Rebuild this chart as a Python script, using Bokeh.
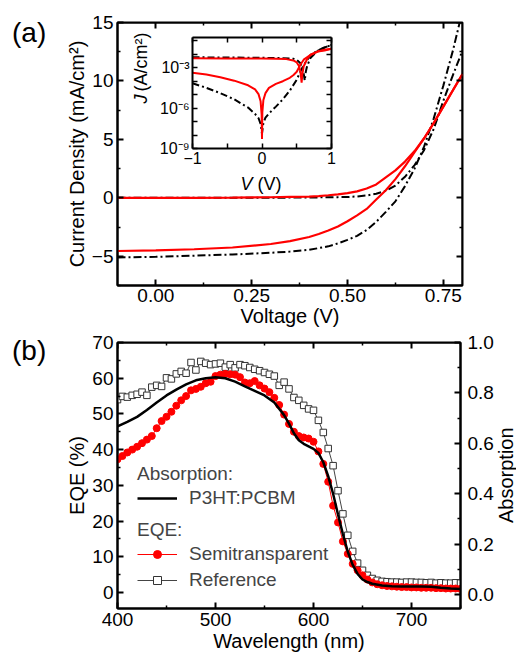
import math
from bokeh.plotting import figure
from bokeh.models import (Range1d, LinearAxis, LogAxis, LinearScale, LogScale, FixedTicker,
                          PrintfTickFormatter, CustomJSTickFormatter, Label, Legend, LegendItem,
                          CustomLabelingPolicy, Div)
from bokeh.layouts import column, row
from bokeh.embed import file_html
from bokeh.resources import INLINE

FONT = "Liberation Sans"

# ---------------- (a) J-V curves (mA/cm^2) ----------------
jv_v = [-0.1, 0.0, 0.1, 0.2, 0.3, 0.35, 0.4, 0.425, 0.45, 0.475, 0.5, 0.525, 0.55,
        0.575, 0.6, 0.625, 0.65, 0.675, 0.7, 0.725, 0.75, 0.775, 0.8]
red_light = [-4.55, -4.5, -4.4, -4.25, -3.95, -3.7, -3.35, -3.1, -2.8, -2.45, -2.0, -1.5, -0.95,
             -0.15, 0.65, 1.6, 2.7, 3.9, 5.1, 6.4, 7.8, 9.2, 10.6]
red_dark = [0.0, 0.0, 0.0, 0.02, 0.05, 0.08, 0.11, 0.15, 0.22, 0.3, 0.4, 0.55, 0.8,
            1.15, 1.75, 2.35, 3.1, 4.0, 5.1, 6.4, 7.8, 9.2, 10.6]
black_light = [-5.1, -5.05, -4.95, -4.85, -4.7, -4.6, -4.45, -4.3, -4.15, -3.9, -3.6, -3.25, -2.75,
               -2.05, -1.2, -0.3, 1.0, 2.5, 4.4, 6.8, 9.6, 12.6, 16.0]
black_dark = [0.0, 0.0, 0.0, 0.0, 0.01, 0.02, 0.03, 0.04, 0.05, 0.06, 0.07, 0.12, 0.2,
              0.35, 0.6, 1.05, 1.8, 2.8, 4.1, 5.9, 8.3, 10.5, 12.6]

# inset: |J| (A/cm^2) on log scale
in_red_light_v = [-1.0, -0.5, 0.0, 0.2, 0.35, 0.45, 0.5, 0.53, 0.55, 0.56, 0.57, 0.58, 0.6,
                  0.65, 0.7, 0.8, 0.9, 1.0]
in_red_light_j = [5.0e-3, 4.9e-3, 4.8e-3, 4.7e-3, 4.4e-3, 3.5e-3, 2.5e-3, 1.4e-3, 6.3e-4, 2.5e-4,
                  7.9e-5, 3.2e-4, 1.3e-3, 4.5e-3, 9.3e-3, 1.6e-2, 1.9e-2, 2.6e-2]
in_red_dark_v = [-1.0, -0.8, -0.6, -0.4, -0.2, -0.1, -0.05, -0.02, -0.005, 0.0, 0.005, 0.02, 0.05,
                 0.1, 0.2, 0.3, 0.4, 0.45, 0.5, 0.55, 0.6, 0.7, 0.8, 0.9, 1.0]
in_red_dark_j = [4.3e-4, 3.2e-4, 2.0e-4, 1.1e-4, 5.0e-5, 2.5e-5, 1.1e-5, 3.2e-6, 3.2e-7, 5.0e-9,
                 5.0e-7, 4.0e-6, 1.3e-5, 3.2e-5, 6.3e-5, 1.0e-4, 1.8e-4, 2.8e-4, 5.0e-4, 1.6e-3,
                 4.0e-3, 9.3e-3, 1.6e-2, 2.2e-2, 2.6e-2]
in_black_dark_v = [-1.0, -0.8, -0.6, -0.4, -0.2, -0.1, -0.05, -0.02, 0.0, 0.02, 0.05, 0.1, 0.2,
                   0.3, 0.4, 0.5, 0.55, 0.6, 0.7, 0.8, 0.9, 1.0]
in_black_dark_j = [7.1e-5, 3.2e-5, 1.3e-5, 4.5e-6, 1.1e-6, 3.7e-7, 1.8e-7, 6.6e-8, 1.3e-8, 7.9e-8,
                   2.0e-7, 4.0e-7, 1.3e-6, 4.5e-6, 2.0e-5, 1.3e-4, 5.0e-4, 1.6e-3, 8.9e-3, 1.9e-2,
                   3.2e-2, 5.0e-2]
in_black_light_v = [-1.0, -0.5, 0.0, 0.3, 0.45, 0.5, 0.55, 0.58, 0.6, 0.615, 0.63, 0.65, 0.7,
                    0.8, 0.9, 1.0]
in_black_light_j = [6.0e-3, 5.8e-3, 5.5e-3, 5.2e-3, 4.7e-3, 3.8e-3, 2.3e-3, 1.0e-3, 3.5e-4, 1.1e-4,
                    5.0e-4, 1.4e-3, 5.6e-3, 1.8e-2, 3.2e-2, 5.0e-2]

# ticks (a)
a_xticks = [0.0, 0.25, 0.5, 0.75]
a_xminor = [0.125, 0.375, 0.625]
a_yticks = [-5, 0, 5, 10, 15]
a_yminor = [-7.5, -2.5, 2.5, 7.5, 12.5]
in_xticks = [-1, 0, 1]
in_xminor = [-0.5, 0.5]
in_yticks = [1e-9, 1e-6, 1e-3]
in_yminor = [1e-8, 1e-7, 1e-5, 1e-4, 1e-2, 1e-1]

# ---------------- (b) EQE / absorption ----------------
wl = [400, 405, 410, 415, 420, 425, 430, 435, 440, 445, 450, 455, 460, 465, 470, 475, 480, 485,
      490, 495, 500, 505, 510, 515, 520, 525, 530, 535, 540, 545, 550, 555, 560, 565, 570, 575,
      580, 585, 590, 595, 600, 605, 610, 615, 620, 625, 630, 635, 640, 645, 650, 655, 660, 665,
      670, 675, 680, 685, 690, 695, 700, 705, 710, 715, 720, 725, 730, 735, 740, 745, 750]
eqe_ref = [54.0, 54.9, 54.7, 55.2, 55.5, 56.1, 55.2, 57.5, 58.0, 57.7, 60.1, 59.8, 61.2, 61.9,
           61.4, 64.4, 62.3, 64.7, 64.2, 63.8, 64.0, 64.2, 63.1, 63.8, 62.9, 63.8, 63.5, 63.0,
           62.5, 62.1, 61.6, 61.1, 60.6, 58.0, 58.9, 57.0, 54.6, 53.8, 52.4, 51.4, 51.0, 48.2,
           44.8, 40.3, 35.5, 28.5, 22.0, 16.0, 11.5, 8.2, 6.2, 4.8, 3.9, 3.4, 3.1, 3.0, 2.9,
           2.9, 2.8, 2.9, 2.9, 2.8, 2.8, 2.7, 2.8, 2.6, 2.7, 2.6, 2.6, 2.7, 2.6]
eqe_semi = [37.3, 38.2, 39.2, 40.0, 40.8, 41.8, 42.8, 43.8, 46.0, 48.0, 49.2, 50.6, 52.3, 53.8,
            55.0, 56.6, 57.0, 57.6, 58.6, 59.0, 60.6, 61.0, 61.2, 61.1, 61.0, 60.3, 58.8, 58.6,
            59.2, 58.0, 57.1, 56.1, 54.5, 52.5, 49.8, 47.2, 45.0, 43.8, 43.4, 43.1, 42.2, 39.5,
            36.0, 31.0, 24.3, 19.6, 14.3, 10.8, 8.0, 6.2, 4.8, 3.6, 2.8, 2.3, 2.0, 1.8, 1.7,
            1.6, 1.5, 1.5, 1.4, 1.4, 1.3, 1.3, 1.3, 1.2, 1.2, 1.1, 1.1, 1.1, 1.0]
wl_abs = [400, 410, 420, 430, 440, 450, 460, 470, 480, 490, 500, 510, 520, 530, 540, 550, 560,
          570, 575, 580, 585, 590, 595, 600, 605, 610, 615, 620, 625, 630, 635, 640, 645, 650,
          655, 660, 670, 680, 690, 700, 710, 720, 730, 740, 750]
absorption = [0.667, 0.685, 0.705, 0.732, 0.762, 0.790, 0.813, 0.834, 0.850, 0.858, 0.862, 0.858,
              0.845, 0.826, 0.808, 0.790, 0.762, 0.712, 0.678, 0.640, 0.612, 0.598, 0.588, 0.578,
              0.562, 0.525, 0.470, 0.400, 0.318, 0.240, 0.170, 0.118, 0.082, 0.060, 0.050, 0.043,
              0.036, 0.033, 0.032, 0.032, 0.032, 0.031, 0.027, 0.024, 0.022]

b_xticks = [400, 500, 600, 700]
b_xminor = [450, 550, 650, 750]
b_yticks = [0, 10, 20, 30, 40, 50, 60, 70]
b_yminor = [5, 15, 25, 35, 45, 55, 65]
b_rticks = [0.0, 0.2, 0.4, 0.6, 0.8, 1.0]
b_rminor = [0.1, 0.3, 0.5, 0.7, 0.9]

RED = "#ff0000"
BLACK = "#000000"
TAG_W = 50      # width of the narrow strip that carries "(a)" / "(b)"


def style_axis(ax, labels=True, tick_size="19px"):
    ax.axis_line_width = 2
    ax.major_tick_in = 6
    ax.major_tick_out = 0
    ax.minor_tick_in = 3
    ax.minor_tick_out = 0
    ax.major_tick_line_width = 2
    ax.minor_tick_line_width = 1.5
    ax.major_label_text_font = FONT
    ax.major_label_text_color = "black"
    ax.axis_label_text_font = FONT
    ax.axis_label_text_font_style = "normal"
    ax.axis_label_text_font_size = "20px"
    ax.axis_label_text_color = "black"
    ax.major_label_standoff = 4
    ax.axis_label_standoff = 1
    ax.major_label_text_font_size = tick_size
    if not labels:
        ax.major_label_policy = CustomLabelingPolicy(code="return []")
        ax.major_label_standoff = 0


def tag_div(w, h, text, size, center_y, indent):
    """plain text block beside a panel; one line whose box is centred at center_y"""
    return Div(text=text, width=w, height=h, margin=0,
               styles={"font-family": FONT, "font-size": size, "color": "black",
                       "line-height": f"{2 * center_y}px", "text-indent": f"{indent}px",
                       "white-space": "nowrap", "overflow": "visible"})


# ================= panel (a) =================
FW1, FH1 = 345, 263
X1 = (-0.1, 0.8)
Y1 = (-7.5, 15)
B1_TOP, B1_BOT = 22, 46
p1 = figure(frame_width=FW1, frame_height=FH1, x_range=Range1d(*X1),
            y_range=Range1d(*Y1), output_backend="svg", toolbar_location=None,
            min_border_left=117 - TAG_W, min_border_right=40, min_border_top=B1_TOP,
            min_border_bottom=B1_BOT)
p1.grid.visible = False
p1.outline_line_color = "black"
p1.outline_line_width = 2


def px1(dx, dy):
    """frame pixel offsets (from bottom-left) -> data coordinates of panel (a)"""
    return (X1[0] + dx * (X1[1] - X1[0]) / FW1, Y1[0] + dy * (Y1[1] - Y1[0]) / FH1)


p1.xaxis.ticker = FixedTicker(ticks=a_xticks, minor_ticks=a_xminor)
p1.xaxis.formatter = PrintfTickFormatter(format="%.2f")
p1.xaxis.axis_label = "Voltage (V)"
p1.yaxis.ticker = FixedTicker(ticks=a_yticks, minor_ticks=a_yminor)
p1.yaxis.axis_label = "Current Density (mA/cm²)"
for ax in p1.xaxis + p1.yaxis:
    style_axis(ax)
p1.xaxis.major_label_standoff = 3
p1.xaxis.axis_label_standoff = 0
top1 = LinearAxis(fixed_location=Y1[1], ticker=FixedTicker(ticks=a_xticks, minor_ticks=a_xminor))
right1 = LinearAxis(fixed_location=X1[1], ticker=FixedTicker(ticks=a_yticks, minor_ticks=a_yminor))
style_axis(top1, labels=False)
style_axis(right1, labels=False)
p1.add_layout(top1, "above")
p1.add_layout(right1, "right")

# main curves
p1.line(jv_v, black_dark, line_color=BLACK, line_width=2, line_dash="8 3 2 3")
p1.line(jv_v, black_light, line_color=BLACK, line_width=2, line_dash="8 3 2 3")
p1.line(jv_v, red_dark, line_color=RED, line_width=2.2)
p1.line(jv_v, red_light, line_color=RED, line_width=2.2)

# inset via extra ranges mapped onto a sub-box of the frame
IX0, IX1 = 75, 214      # inset box, px from frame left
IY0, IY1 = 137, 248     # inset box, px from frame bottom
IN_LOG_LO, IN_LOG_HI = -9.0, -0.75
ppx = (IX1 - IX0) / 2.0
ppd = (IY1 - IY0) / (IN_LOG_HI - IN_LOG_LO)
p1.extra_x_ranges = {"ix": Range1d(-1 - IX0 / ppx, 1 + (FW1 - IX1) / ppx)}
p1.extra_y_ranges = {"iy": Range1d(10 ** (IN_LOG_LO - IY0 / ppd), 10 ** (IN_LOG_HI + (FH1 - IY1) / ppd))}
p1.extra_x_scales = {"ix": LinearScale()}
p1.extra_y_scales = {"iy": LogScale()}
in_top = 10 ** IN_LOG_HI
in_bot = 10 ** IN_LOG_LO

sup = CustomJSTickFormatter(code="""
const e = Math.round(Math.log10(tick));
const m = {'-':'\u207b','0':'\u2070','1':'\u00b9','2':'\u00b2','3':'\u00b3','4':'\u2074','5':'\u2075','6':'\u2076','7':'\u2077','8':'\u2078','9':'\u2079'};
return '10' + String(e).split('').map(c => m[c]).join('');
""")

ib = LinearAxis(x_range_name="ix", y_range_name="iy", fixed_location=in_bot, bounds=(-1, 1),
                ticker=FixedTicker(ticks=in_xticks, minor_ticks=in_xminor))
it = LinearAxis(x_range_name="ix", y_range_name="iy", fixed_location=in_top, bounds=(-1, 1),
                ticker=FixedTicker(ticks=in_xticks, minor_ticks=in_xminor))
il = LogAxis(x_range_name="ix", y_range_name="iy", fixed_location=-1, bounds=(in_bot, in_top),
             ticker=FixedTicker(ticks=in_yticks, minor_ticks=in_yminor), formatter=sup)
ir = LogAxis(x_range_name="ix", y_range_name="iy", fixed_location=1, bounds=(in_bot, in_top),
             ticker=FixedTicker(ticks=in_yticks, minor_ticks=in_yminor))
for ax, lab in ((ib, True), (il, True), (it, False), (ir, False)):
    style_axis(ax, labels=lab, tick_size="16px")
    ax.major_tick_in = 5
    ax.minor_tick_in = 5
    ax.major_tick_line_width = 1.5
    ax.minor_tick_line_width = 1.5
    if lab:
        ax.major_label_standoff = 3
p1.add_layout(ib, "below")
p1.add_layout(it, "above")
p1.add_layout(il, "left")
p1.add_layout(ir, "right")

kw = dict(x_range_name="ix", y_range_name="iy")
p1.line(in_black_dark_v, in_black_dark_j, line_color=BLACK, line_width=2, line_dash="7 3 2 3", **kw)
p1.line(in_black_light_v, in_black_light_j, line_color=BLACK, line_width=2, line_dash="7 3 2 3", **kw)
p1.line(in_red_dark_v, in_red_dark_j, line_color=RED, line_width=2, **kw)
p1.line(in_red_light_v, in_red_light_j, line_color=RED, line_width=2, **kw)


def add_label(p, xy, text, size, **extra):
    p.add_layout(Label(x=xy[0], y=xy[1], text=text, text_font=FONT, text_font_size=size,
                       text_color="black", **extra))


add_label(p1, px1(123, IY0 - 35), "V", "18px", text_font_style="italic",
          text_align="left", text_baseline="middle")
add_label(p1, px1(140, IY0 - 35), "(V)", "18px", text_align="left", text_baseline="middle")
add_label(p1, px1(23, 182), "J", "18px", text_font_style="italic", angle=math.pi / 2,
          text_align="left", text_baseline="middle")
add_label(p1, px1(23, 194), "(A/cm²)", "18px", angle=math.pi / 2,
          text_align="left", text_baseline="middle")

P1_H = B1_TOP + FH1 + B1_BOT
tag_a = tag_div(TAG_W, P1_H, "(a)", "28px", center_y=33, indent=12)

# ================= panel (b) =================
FW2, FH2 = 343, 266
X2 = (400, 750)
Y2 = (-4.5, 70)
B2_TOP, B2_BOT, B2_RIGHT = 11, 49, 36
p2 = figure(frame_width=FW2, frame_height=FH2, x_range=Range1d(*X2),
            y_range=Range1d(*Y2), output_backend="svg", toolbar_location=None,
            min_border_left=117 - TAG_W, min_border_right=B2_RIGHT, min_border_top=B2_TOP,
            min_border_bottom=B2_BOT)
p2.grid.visible = False
p2.outline_line_color = "black"
p2.outline_line_width = 2
p2.extra_y_ranges = {"abs": Range1d(-0.055, 1.0)}

p2.xaxis.ticker = FixedTicker(ticks=b_xticks, minor_ticks=b_xminor)
p2.xaxis.axis_label = "Wavelength (nm)"
p2.yaxis.ticker = FixedTicker(ticks=b_yticks, minor_ticks=b_yminor)
p2.yaxis.axis_label = "EQE (%)"
for ax in p2.xaxis + p2.yaxis:
    style_axis(ax)
top2 = LinearAxis(fixed_location=Y2[1], ticker=FixedTicker(ticks=b_xticks, minor_ticks=b_xminor))
style_axis(top2, labels=False)
p2.add_layout(top2, "above")
right2 = LinearAxis(y_range_name="abs", ticker=FixedTicker(ticks=b_rticks, minor_ticks=b_rminor),
                    formatter=PrintfTickFormatter(format="%.1f"))
style_axis(right2)
right2.major_label_standoff = 7
p2.add_layout(right2, "right")

ref_l = p2.line(wl, eqe_ref, line_color="#444444", line_width=1)
ref_s = p2.scatter(wl, eqe_ref, marker="square", size=6.5, line_color="#333333",
                   fill_color="white", line_width=1)
red_l = p2.line(wl, eqe_semi, line_color=RED, line_width=1)
red_s = p2.scatter(wl, eqe_semi, marker="circle", size=7, line_color=RED, fill_color=RED)
abs_r = p2.line(wl_abs, absorption, line_color=BLACK, line_width=2.5, y_range_name="abs")

leg1 = Legend(items=[LegendItem(label="P3HT:PCBM", renderers=[abs_r])],
              title="Absorption:", location=(20, 99))
leg2 = Legend(items=[LegendItem(label="Semitransparent", renderers=[red_l, red_s]),
                     LegendItem(label="Reference", renderers=[ref_l, ref_s])],
              title="EQE:", location=(20, 17))
for lg in (leg1, leg2):
    lg.title_text_font = FONT
    lg.title_text_font_size = "19px"
    lg.title_text_font_style = "normal"
    lg.title_standoff = 2
    lg.label_text_font = FONT
    lg.label_text_font_size = "19px"
    lg.glyph_width = 40
    lg.glyph_height = 20
    lg.label_height = 20
    lg.label_standoff = 12
    lg.spacing = 4
    lg.padding = 0
    lg.margin = 0
    lg.border_line_color = None
    lg.background_fill_alpha = 0
    p2.add_layout(lg)

P2_H = B2_TOP + FH2 + B2_BOT
P2_W = (117 - TAG_W) + FW2 + B2_RIGHT
tag_b = tag_div(TAG_W, P2_H, "(b)", "28px", center_y=20, indent=12)
ABS_W = 516 - TAG_W - P2_W
ABS_H = 2 * (B2_TOP + FH2 // 2)          # box whose middle is the frame's middle
abs_title = Div(text="Absorption", width=ABS_W, height=ABS_H, margin=0,
                styles={"font-family": FONT, "font-size": "20px", "color": "black",
                        "writing-mode": "vertical-rl", "transform": "rotate(180deg)",
                        "text-align": "center", "line-height": f"{ABS_W}px",
                        "white-space": "nowrap", "overflow": "visible"})

layout = column(row(tag_a, p1), row(tag_b, p2, abs_title))
open("out.html", "w").write(file_html(layout, INLINE))
